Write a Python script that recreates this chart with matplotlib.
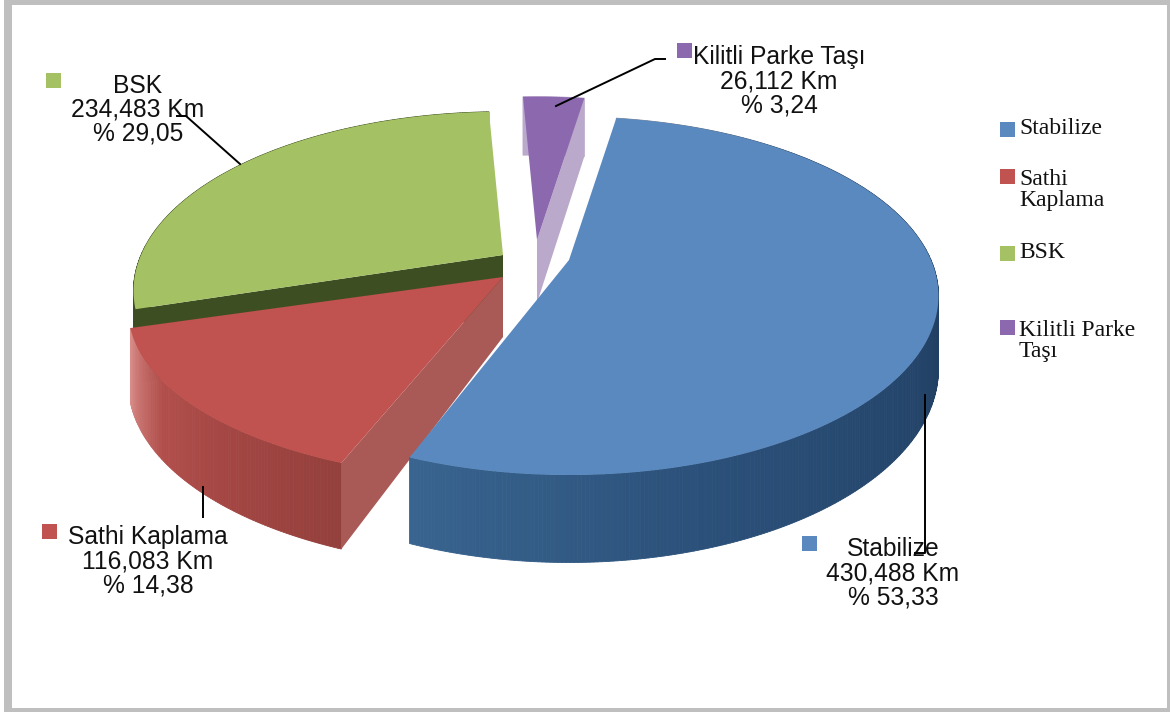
import numpy as np
import matplotlib
matplotlib.use("Agg")
import matplotlib.pyplot as plt
from matplotlib.colors import LinearSegmentedColormap
from matplotlib.patches import Polygon, Rectangle

categories = ["Stabilize", "Sathi Kaplama", "BSK", "Kilitli Parke Taşı"]
legend_names = ["Stabilize", "Sathi\nKaplama", "BSK", "Kilitli Parke\nTaşı"]
km_labels = ["430,488 Km", "116,083 Km", "234,483 Km", "26,112 Km"]
percent_labels = ["% 53,33", "% 14,38", "% 29,05", "% 3,24"]
percents = [53.33, 14.38, 29.05, 3.24]

top_colors = ["#5a89c0", "#c0524f", "#a4c163", "#8c69af"]
cut_colors = [None, "#a95a57", "#3d4f22", "#bba9cc"]
wall_colors = [
    ["#38648f", "#2b5079", "#24456b", "#1f3a5a", "#22405f", "#8c97a6"],
    ["#d98d8a", "#b24f4c", "#a34643", "#94403c"],
    ["#3d4f22", "#3d4f22"],
    ["#bba9cc", "#bba9cc"],
]

# pie shape, all in pixels
START = 9.0
PERSP = 0.2
DEPTH = 70
centers = [(569, 260), (503, 277), (503, 255), (537, 240)]
radius_x = [362, 367, 362, 362]
radius_y = [172, 162, 172, 172]
draw_order = [3, 2, 1, 0]

# text positions
label_pos = [(893, 573), (148, 561), (138, 110), (779, 81)]
label_swatch = [(802, 536), (42, 524), (46, 73), (677, 43)]
legend_y = [129, 176, 253, 327]
legend_text_y = [129, 190, 253, 341]
leaders = [
    ([925, 925, 915], [395, 553, 553]),
    ([203, 203], [487, 517]),
    ([240, 186, 177], [164, 116, 116]),
    ([556, 655, 665], [106, 59, 59]),
]


def project(i, ang, drop=0.0):
    # ang in degrees clockwise from the top of the pie
    rad = np.radians(ang)
    x, y = np.sin(rad), np.cos(rad)
    s = 1 / (1 + PERSP * y)
    cx, cy = centers[i]
    return cx + radius_x[i] * x * s, cy - radius_y[i] * y * s + drop * s


fig = plt.figure(figsize=(11.7, 7.12), dpi=100)
ax = fig.add_axes([0, 0, 1, 1])
ax.set_xlim(0, 1170)
ax.set_ylim(712, 0)
ax.axis("off")

ax.add_patch(Rectangle((4, 0), 1166, 712, fc="#bfbfbf", ec="none", zorder=0))
ax.add_patch(Rectangle((12, 5), 1155, 703, fc="white", ec="none", zorder=0.5))

edges = START + np.cumsum([0] + percents) * 3.6

for i in draw_order:
    a0, a1 = edges[i], edges[i + 1]
    steps = max(int(a1 - a0) * 2, 4)
    angs = np.linspace(a0, a1, steps + 1)
    cmap = LinearSegmentedColormap.from_list("wall", wall_colors[i])
    z = 2 + draw_order.index(i)

    # outer wall as thin strips, coloured along the rim (right to left is dark to light)
    for j in range(steps):
        xa, ya = project(i, angs[j:j + 2])
        xb, yb = project(i, angs[j:j + 2], DEPTH)
        pts = np.column_stack([np.r_[xa, xb[::-1]], np.r_[ya, yb[::-1]]])
        col = cmap(1 - j / (steps - 1)) if i == 0 else cmap(j / (steps - 1))
        if i == 1:
            col = cmap(1 - j / (steps - 1))
        ax.add_patch(Polygon(pts, fc=col, ec=col, lw=0.6, zorder=z))

    # cut faces
    cx, cy = centers[i]
    if i == 1:
        xr, yr = project(i, a0)
        xd, yd = project(i, a0, DEPTH)
        ax.add_patch(Polygon([(cx, cy), (xr, yr), (xd, yd), (cx, cy + 60)],
                             fc=cut_colors[i], ec="none", zorder=z))
    if i == 2:
        xr, yr = project(i, a0)
        xd, yd = project(i, a0, DEPTH)
        ax.add_patch(Polygon([(cx, cy), (xr, yr), (xd, yd), (cx, cy + 60)],
                             fc=cut_colors[i], ec="none", zorder=z))
    if i == 3:
        xr, yr = project(i, a1)
        xd, yd = project(i, a1, DEPTH)
        ax.add_patch(Polygon([(cx, cy), (xr, yr), (xd, yd), (cx, cy + 63)],
                             fc=cut_colors[i], ec="none", zorder=z))

    # top face
    xt, yt = project(i, angs)
    pts = np.column_stack([np.r_[cx, xt], np.r_[cy, yt]])
    ax.add_patch(Polygon(pts, fc=top_colors[i], ec="none", zorder=z + 0.5))

# data labels
for i, name in enumerate(categories):
    ax.text(label_pos[i][0], label_pos[i][1], name + "\n" + km_labels[i] + "\n" + percent_labels[i],
            ha="center", va="center", multialignment="center", family="Liberation Sans",
            fontsize=17.7, color="#111111", linespacing=1.0, zorder=10)
    ax.add_patch(Rectangle(label_swatch[i], 14.5, 14.5, fc=top_colors[i], ec="none", zorder=10))
    ax.plot(leaders[i][0], leaders[i][1], color="black", lw=1.4, zorder=11)

# legend
for i, name in enumerate(legend_names):
    ax.add_patch(Rectangle((1000, legend_y[i] - 7), 14.5, 14.5, fc=top_colors[i], ec="none", zorder=10))
    ax.text(1019, legend_text_y[i], name, ha="left", va="center", family="Liberation Serif",
            fontsize=17, color="#111111", linespacing=1.0, zorder=10)

fig.savefig("out.png", dpi=100)
plt.close(fig)
